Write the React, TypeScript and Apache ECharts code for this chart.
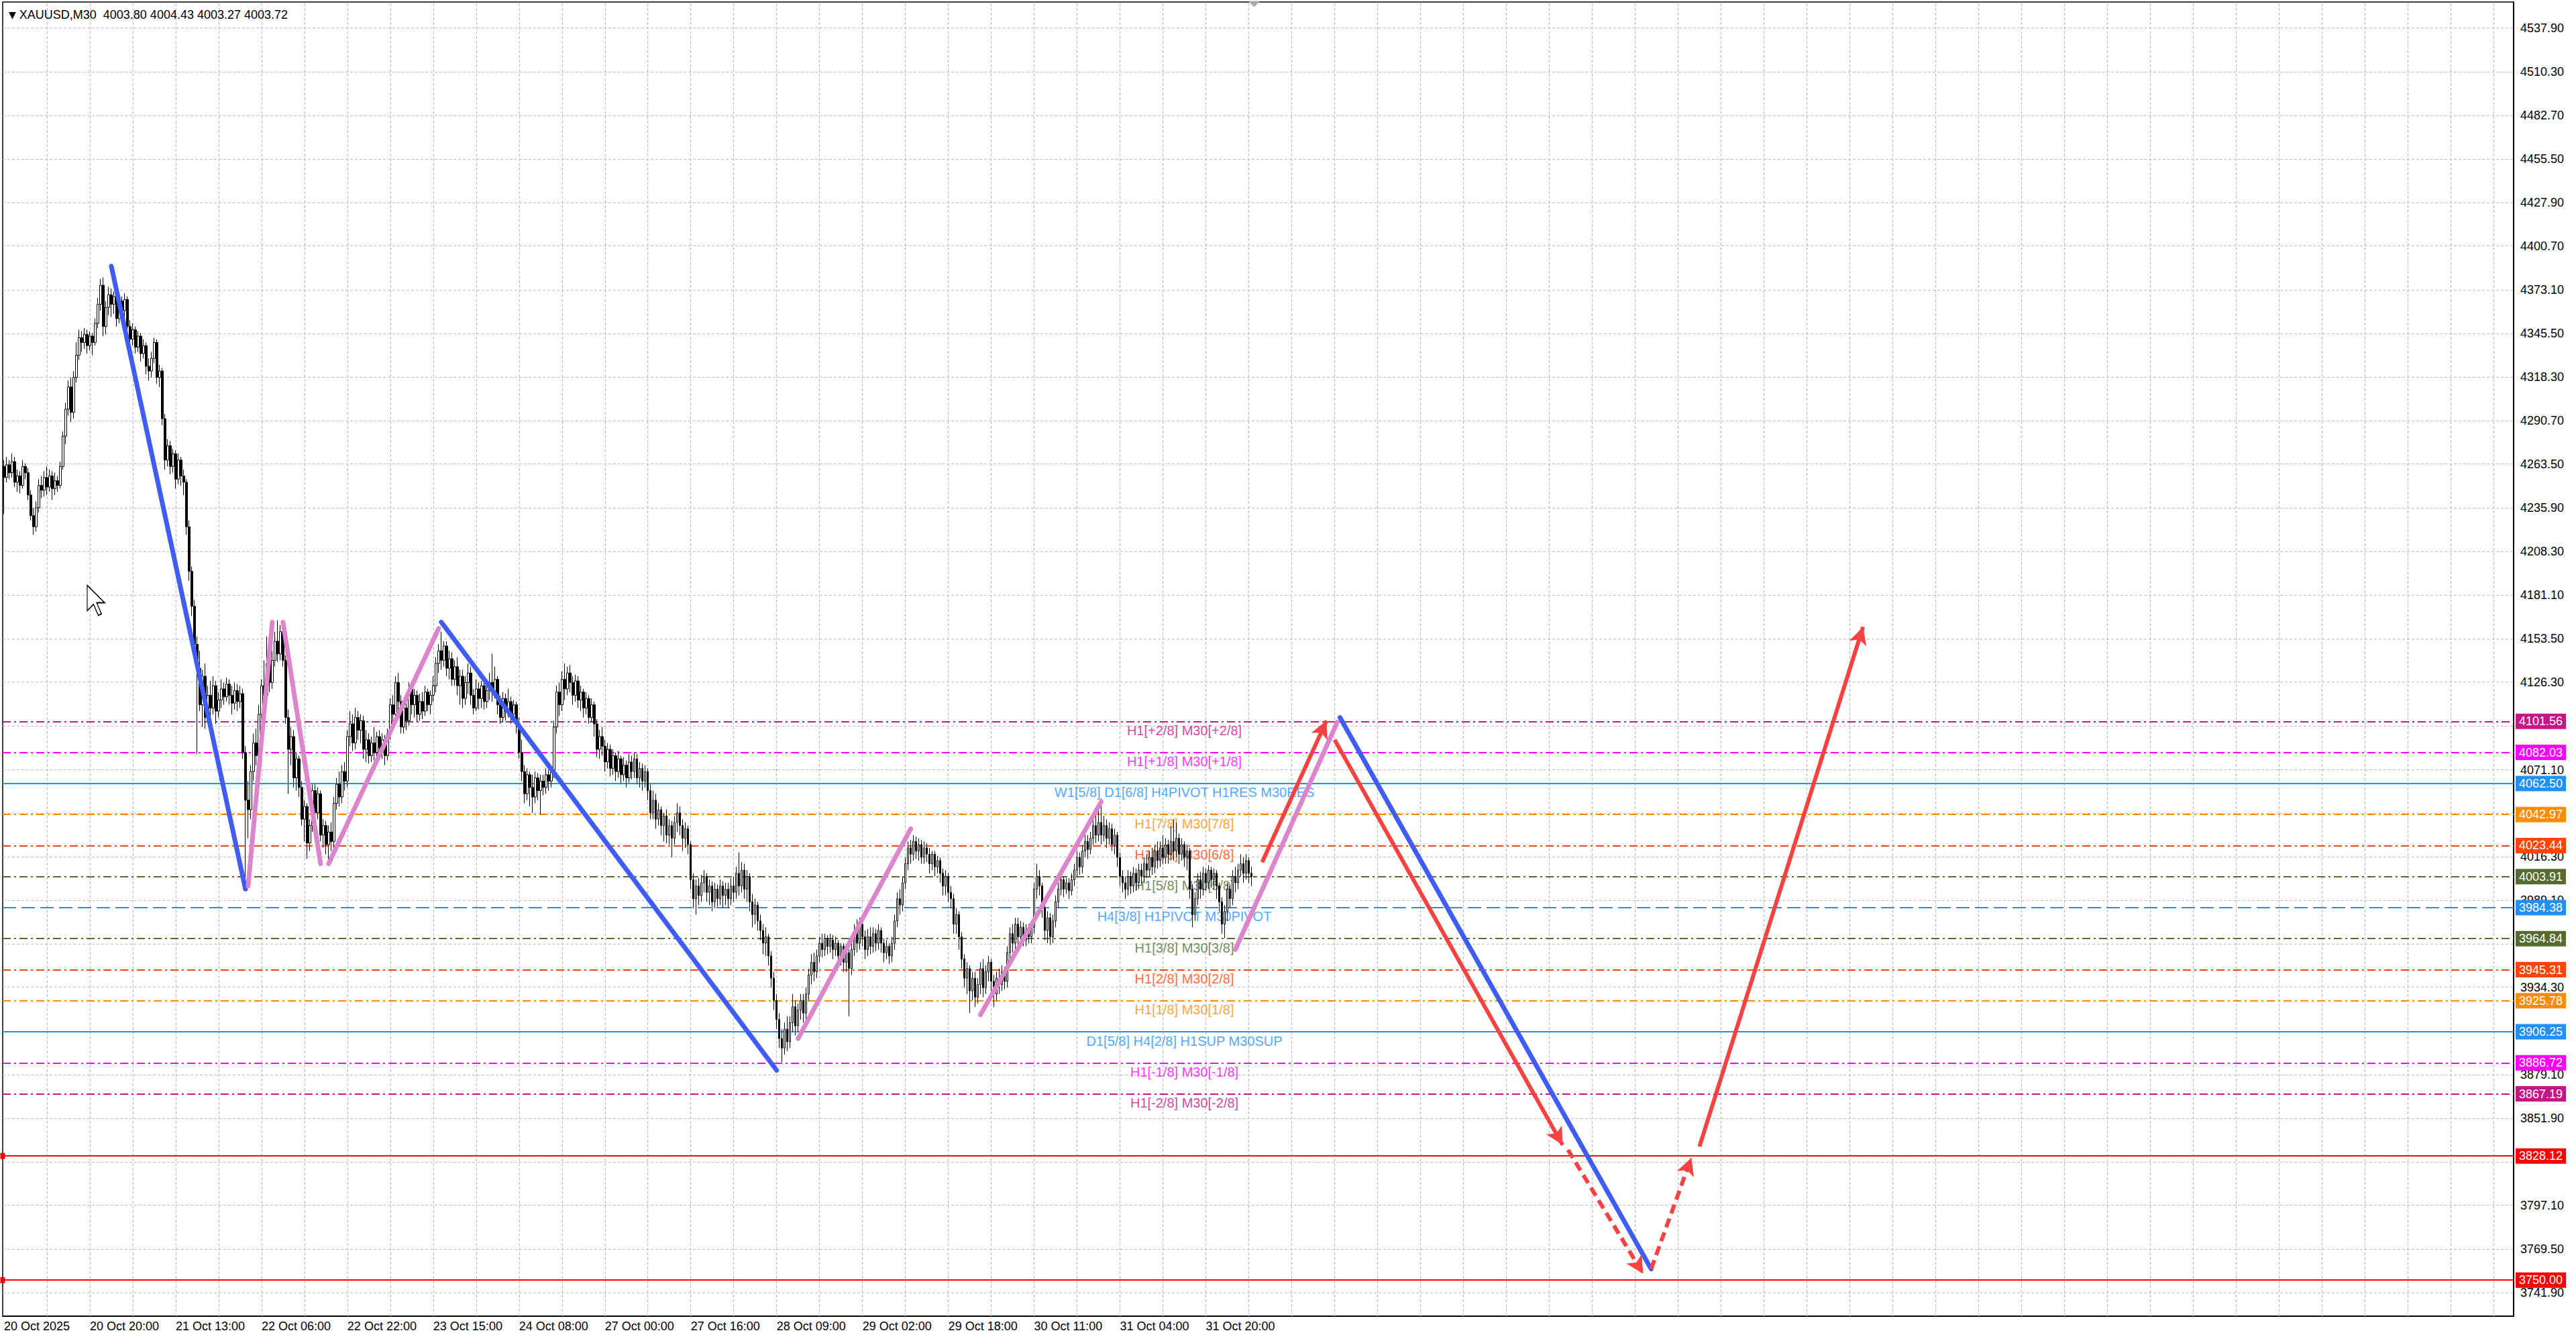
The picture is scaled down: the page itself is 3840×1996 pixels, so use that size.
import { useEffect, useRef } from 'react';
import * as echarts from 'echarts';

type Bar = [number, number, number, number]; // open, close, low, high
type Leg = [number, number, number, number]; // bar, price, bar, price

const FONT = '"Liberation Sans", Arial, sans-serif';

const symbolName = 'XAUUSD';
const timeframe = 'M30';

// 20 Oct 04:00 - 23:30
const oct20: Bar[] = [
  [4262, 4255, 4232, 4266], [4255, 4263, 4252, 4268], [4263, 4258, 4254, 4266], [4258, 4265, 4255, 4270],
  [4265, 4252, 4249, 4268], [4252, 4256, 4246, 4260], [4256, 4250, 4245, 4259], [4250, 4262, 4248, 4266],
  [4262, 4258, 4254, 4264], [4258, 4244, 4241, 4261], [4244, 4231, 4228, 4247], [4231, 4224, 4219, 4236],
  [4224, 4236, 4221, 4240], [4236, 4250, 4233, 4254], [4250, 4247, 4242, 4256], [4247, 4255, 4243, 4259],
  [4255, 4249, 4244, 4262], [4249, 4256, 4246, 4260], [4256, 4248, 4241, 4259], [4248, 4253, 4244, 4258],
  [4253, 4250, 4246, 4256], [4250, 4262, 4248, 4265], [4262, 4281, 4260, 4284], [4281, 4298, 4276, 4302],
  [4298, 4312, 4294, 4316], [4312, 4296, 4290, 4318], [4296, 4318, 4292, 4322], [4318, 4332, 4315, 4340],
  [4332, 4343, 4329, 4348], [4343, 4340, 4334, 4347], [4340, 4345, 4336, 4349], [4345, 4338, 4333, 4348],
  [4338, 4344, 4335, 4347], [4344, 4340, 4332, 4346], [4340, 4352, 4338, 4355], [4352, 4364, 4349, 4368],
  [4364, 4376, 4360, 4380], [4376, 4350, 4344, 4381], [4350, 4362, 4345, 4366], [4362, 4370, 4357, 4375],
];

const oct21: Bar[] = [
  [4370, 4364, 4356, 4374], [4364, 4369, 4358, 4372], [4369, 4355, 4350, 4372], [4355, 4366, 4352, 4370],
  [4366, 4360, 4354, 4369], [4360, 4367, 4355, 4371], [4367, 4350, 4346, 4369], [4350, 4342, 4336, 4354],
  [4342, 4348, 4338, 4352], [4348, 4337, 4333, 4350], [4337, 4344, 4334, 4347], [4344, 4333, 4328, 4346],
  [4333, 4338, 4330, 4342], [4338, 4325, 4320, 4340], [4325, 4322, 4316, 4330], [4322, 4330, 4318, 4334],
  [4330, 4340, 4327, 4343], [4340, 4318, 4314, 4342], [4318, 4322, 4312, 4326], [4322, 4292, 4288, 4324],
  [4292, 4266, 4260, 4295], [4266, 4275, 4262, 4279], [4275, 4262, 4257, 4278], [4262, 4270, 4258, 4273],
  [4270, 4254, 4248, 4272], [4254, 4266, 4251, 4270], [4266, 4256, 4250, 4268], [4256, 4252, 4244, 4260],
  [4252, 4224, 4219, 4254], [4224, 4196, 4190, 4228], [4196, 4174, 4168, 4199], [4174, 4150, 4145, 4178],
  [4150, 4135, 4081, 4155], [4135, 4112, 4108, 4146], [4112, 4130, 4098, 4134], [4130, 4104, 4097, 4138],
  [4104, 4118, 4100, 4124], [4118, 4110, 4102, 4127], [4110, 4124, 4106, 4130], [4124, 4108, 4100, 4127],
  [4108, 4115, 4104, 4120], [4115, 4122, 4110, 4128], [4122, 4117, 4112, 4126], [4117, 4125, 4114, 4129],
  [4125, 4118, 4112, 4128], [4118, 4113, 4106, 4124],
];

const oct22: Bar[] = [
  [4113, 4121, 4109, 4126], [4121, 4114, 4108, 4125], [4114, 4119, 4110, 4124], [4119, 4082, 4078, 4122],
  [4082, 4052, 4002, 4086], [4052, 4046, 4028, 4064], [4046, 4070, 4040, 4074], [4070, 4088, 4064, 4094],
  [4088, 4080, 4074, 4097], [4080, 4106, 4076, 4112], [4106, 4124, 4100, 4128], [4124, 4118, 4112, 4140],
  [4118, 4138, 4114, 4155], [4138, 4126, 4120, 4143], [4126, 4140, 4122, 4146], [4140, 4152, 4136, 4158],
  [4152, 4144, 4139, 4165], [4144, 4158, 4140, 4162], [4158, 4140, 4136, 4161], [4140, 4104, 4100, 4143],
  [4104, 4084, 4056, 4109], [4084, 4092, 4074, 4098], [4092, 4066, 4060, 4096], [4066, 4078, 4058, 4082],
  [4078, 4060, 4054, 4080], [4060, 4040, 4036, 4064], [4040, 4048, 4026, 4052], [4048, 4025, 4015, 4050],
  [4025, 4036, 4020, 4040], [4036, 4058, 4032, 4062], [4058, 4044, 4038, 4062], [4044, 4056, 4040, 4060],
  [4056, 4030, 4026, 4058], [4030, 4036, 4022, 4040], [4036, 4024, 4018, 4039], [4024, 4032, 4014, 4036],
  [4032, 4026, 4020, 4038], [4026, 4050, 4022, 4054], [4050, 4062, 4046, 4066], [4062, 4054, 4048, 4070],
  [4054, 4070, 4050, 4074], [4070, 4064, 4058, 4076], [4064, 4092, 4060, 4096], [4092, 4100, 4086, 4108],
  [4100, 4088, 4083, 4106], [4088, 4104, 4084, 4110],
];

const oct23: Bar[] = [
  [4104, 4096, 4090, 4108], [4096, 4102, 4088, 4106], [4102, 4084, 4078, 4105], [4084, 4090, 4076, 4096],
  [4090, 4080, 4075, 4094], [4080, 4088, 4076, 4092], [4088, 4082, 4077, 4098], [4082, 4092, 4078, 4095],
  [4092, 4085, 4080, 4096], [4085, 4090, 4078, 4094], [4090, 4080, 4074, 4093], [4080, 4094, 4077, 4097],
  [4094, 4112, 4090, 4116], [4112, 4106, 4100, 4118], [4106, 4126, 4102, 4130], [4126, 4114, 4108, 4132],
  [4114, 4098, 4094, 4118], [4098, 4110, 4094, 4114], [4110, 4102, 4096, 4113], [4102, 4122, 4099, 4126],
  [4122, 4112, 4106, 4127], [4112, 4118, 4104, 4122], [4118, 4106, 4101, 4121], [4106, 4114, 4102, 4119],
  [4114, 4108, 4103, 4120], [4108, 4120, 4105, 4124], [4120, 4112, 4108, 4122], [4112, 4118, 4106, 4121],
  [4118, 4124, 4114, 4130], [4124, 4138, 4120, 4142], [4138, 4146, 4132, 4150], [4146, 4140, 4134, 4158],
  [4140, 4149, 4136, 4152], [4149, 4135, 4130, 4152], [4135, 4141, 4128, 4146], [4141, 4128, 4124, 4145],
  [4128, 4136, 4124, 4140], [4136, 4124, 4118, 4142], [4124, 4130, 4112, 4134], [4130, 4116, 4110, 4134],
  [4116, 4126, 4112, 4130], [4126, 4132, 4119, 4138], [4132, 4118, 4112, 4136], [4118, 4110, 4106, 4122],
  [4110, 4122, 4108, 4128], [4122, 4116, 4109, 4126],
];

const oct24: Bar[] = [
  [4116, 4124, 4110, 4127], [4124, 4114, 4109, 4128], [4114, 4121, 4110, 4126], [4121, 4126, 4115, 4132],
  [4126, 4120, 4114, 4144], [4120, 4128, 4116, 4136], [4128, 4112, 4106, 4130], [4112, 4104, 4100, 4118],
  [4104, 4116, 4101, 4120], [4116, 4108, 4102, 4119], [4108, 4114, 4104, 4122], [4114, 4106, 4100, 4117],
  [4106, 4112, 4103, 4115], [4112, 4100, 4094, 4114], [4100, 4082, 4078, 4104], [4082, 4070, 4064, 4090],
  [4070, 4056, 4050, 4074], [4056, 4068, 4052, 4072], [4068, 4060, 4048, 4070], [4060, 4054, 4044, 4068],
  [4054, 4066, 4050, 4070], [4066, 4058, 4052, 4069], [4058, 4064, 4043, 4068], [4064, 4060, 4055, 4068],
  [4060, 4068, 4056, 4072], [4068, 4064, 4058, 4071], [4064, 4070, 4060, 4074], [4070, 4098, 4066, 4102],
  [4098, 4120, 4094, 4124], [4120, 4112, 4105, 4126], [4112, 4128, 4108, 4133], [4128, 4122, 4115, 4138],
  [4122, 4132, 4118, 4136], [4132, 4126, 4120, 4137], [4126, 4118, 4112, 4130], [4118, 4127, 4114, 4131],
  [4127, 4115, 4110, 4130], [4115, 4120, 4108, 4124], [4120, 4110, 4104, 4122], [4110, 4116, 4106, 4120],
  [4116, 4104, 4100, 4118], [4104, 4112, 4101, 4116], [4112, 4100, 4092, 4114], [4100, 4084, 4079, 4103],
  [4084, 4092, 4078, 4096], [4092, 4086, 4080, 4098],
];

const oct27: Bar[] = [
  [4086, 4076, 4070, 4090], [4076, 4084, 4072, 4088], [4084, 4072, 4067, 4087], [4072, 4080, 4068, 4084],
  [4080, 4070, 4064, 4082], [4070, 4078, 4066, 4083], [4078, 4068, 4062, 4080], [4068, 4074, 4064, 4079],
  [4074, 4066, 4060, 4077], [4066, 4076, 4063, 4081], [4076, 4070, 4065, 4080], [4070, 4078, 4066, 4082],
  [4078, 4066, 4062, 4081], [4066, 4072, 4060, 4076], [4072, 4064, 4058, 4075], [4064, 4070, 4060, 4074],
  [4070, 4058, 4052, 4072], [4058, 4044, 4040, 4062], [4044, 4052, 4040, 4058], [4052, 4040, 4034, 4056],
  [4040, 4046, 4036, 4050], [4046, 4036, 4030, 4048], [4036, 4042, 4026, 4044], [4042, 4030, 4025, 4046],
  [4030, 4036, 4024, 4040], [4036, 4028, 4016, 4039], [4028, 4038, 4024, 4042], [4038, 4044, 4032, 4050],
  [4044, 4036, 4030, 4048], [4036, 4028, 4020, 4040], [4028, 4034, 4022, 4038], [4034, 4024, 4018, 4036],
  [4024, 4002, 3996, 4026], [4002, 3990, 3984, 4006], [3990, 3998, 3980, 4002], [3998, 3992, 3986, 4003],
  [3992, 4000, 3988, 4005], [4000, 4004, 3994, 4008], [4004, 3994, 3988, 4006], [3994, 3998, 3986, 4002],
  [3998, 3988, 3982, 4001], [3988, 3996, 3984, 4000], [3996, 3990, 3985, 3999], [3990, 3998, 3986, 4002],
  [3998, 3992, 3984, 4001], [3992, 3996, 3986, 4000],
];

const oct28: Bar[] = [
  [3996, 3990, 3984, 4000], [3990, 3998, 3986, 4003], [3998, 3994, 3988, 4004], [3994, 4006, 3990, 4010],
  [4006, 3998, 3992, 4019], [3998, 4008, 3994, 4013], [4008, 3996, 3990, 4012], [3996, 4004, 3988, 4008],
  [4004, 3988, 3982, 4006], [3988, 3980, 3972, 3993], [3980, 3986, 3974, 3990], [3986, 3976, 3970, 3988],
  [3976, 3970, 3964, 3980], [3970, 3962, 3955, 3974], [3962, 3966, 3954, 3972], [3966, 3954, 3948, 3968],
  [3954, 3940, 3934, 3957], [3940, 3926, 3920, 3944], [3926, 3914, 3908, 3930], [3914, 3902, 3896, 3918],
  [3902, 3896, 3887, 3908], [3896, 3908, 3892, 3912], [3908, 3900, 3894, 3916], [3900, 3912, 3896, 3916],
  [3912, 3922, 3906, 3930], [3922, 3910, 3904, 3926], [3910, 3920, 3906, 3924], [3920, 3926, 3914, 3930],
  [3926, 3918, 3912, 3930], [3918, 3930, 3914, 3934], [3930, 3942, 3926, 3946], [3942, 3950, 3936, 3955],
  [3950, 3944, 3938, 3956], [3944, 3954, 3940, 3958], [3954, 3962, 3950, 3966], [3962, 3958, 3953, 3968],
  [3958, 3965, 3954, 3968], [3965, 3960, 3955, 3967], [3960, 3964, 3956, 3968], [3964, 3958, 3952, 3967],
  [3958, 3962, 3954, 3966], [3962, 3954, 3948, 3964], [3954, 3960, 3948, 3962], [3960, 3950, 3944, 3962],
  [3950, 3956, 3944, 3960], [3956, 3946, 3916, 3958],
];

const oct29: Bar[] = [
  [3946, 3958, 3942, 3962], [3958, 3970, 3954, 3974], [3970, 3962, 3956, 3977], [3962, 3974, 3958, 3978],
  [3974, 3966, 3960, 3977], [3966, 3958, 3952, 3970], [3958, 3966, 3954, 3971], [3966, 3960, 3955, 3972],
  [3960, 3968, 3956, 3972], [3968, 3962, 3957, 3971], [3962, 3970, 3958, 3974], [3970, 3962, 3956, 3972],
  [3962, 3956, 3950, 3965], [3956, 3960, 3952, 3964], [3960, 3954, 3949, 3962], [3954, 3962, 3950, 3966],
  [3962, 3976, 3958, 3980], [3976, 3990, 3972, 3994], [3990, 3986, 3980, 3996], [3986, 4000, 3982, 4004],
  [4000, 4012, 3996, 4016], [4012, 4022, 4008, 4026], [4022, 4018, 4012, 4027], [4018, 4026, 4014, 4030],
  [4026, 4020, 4015, 4029], [4020, 4024, 4014, 4028], [4024, 4016, 4012, 4027], [4016, 4022, 4012, 4026],
  [4022, 4018, 4013, 4025], [4018, 4012, 4006, 4022], [4012, 4018, 4008, 4020], [4018, 4010, 4004, 4020],
  [4010, 4014, 4006, 4017], [4014, 4006, 4000, 4016], [4006, 3998, 3992, 4009], [3998, 4004, 3992, 4008],
  [4004, 3994, 3988, 4006], [3994, 3990, 3984, 3998], [3990, 3974, 3968, 3993], [3974, 3980, 3968, 3984],
  [3980, 3966, 3958, 3982], [3966, 3952, 3946, 3969], [3952, 3940, 3934, 3955], [3940, 3946, 3930, 3950],
  [3946, 3932, 3918, 3948], [3932, 3940, 3926, 3944],
];

const oct30: Bar[] = [
  [3940, 3928, 3922, 3944], [3928, 3936, 3924, 3940], [3936, 3946, 3930, 3950], [3946, 3934, 3928, 3952],
  [3934, 3944, 3930, 3948], [3944, 3950, 3938, 3954], [3950, 3938, 3932, 3952], [3938, 3930, 3922, 3942],
  [3930, 3940, 3926, 3944], [3940, 3936, 3930, 3946], [3936, 3944, 3932, 3948], [3944, 3938, 3933, 3947],
  [3938, 3956, 3934, 3960], [3956, 3968, 3952, 3972], [3968, 3962, 3956, 3974], [3962, 3974, 3958, 3978],
  [3974, 3966, 3960, 3978], [3966, 3972, 3962, 3976], [3972, 3964, 3960, 3975], [3964, 3970, 3960, 3974],
  [3970, 3966, 3962, 3974], [3966, 3972, 3962, 3975], [3972, 3996, 3968, 4000], [3996, 4004, 3990, 4012],
  [4004, 3998, 3992, 4008], [3998, 3984, 3978, 4000], [3984, 3970, 3964, 3988], [3970, 3978, 3962, 3982],
  [3978, 3966, 3961, 3981], [3966, 3976, 3962, 3980], [3976, 3988, 3972, 3992], [3988, 3996, 3984, 4000],
  [3996, 4002, 3992, 4005], [4002, 3996, 3991, 4004], [3996, 4000, 3993, 4003], [4000, 3995, 3990, 4003],
  [3995, 4002, 3992, 4006], [4002, 4008, 3998, 4012], [4008, 4016, 4004, 4020], [4016, 4010, 4005, 4019],
  [4010, 4020, 4006, 4024], [4020, 4026, 4016, 4030], [4026, 4021, 4015, 4030], [4021, 4028, 4018, 4032],
  [4028, 4036, 4024, 4040], [4036, 4030, 4025, 4044],
];

const oct31: Bar[] = [
  [4030, 4038, 4026, 4046], [4038, 4030, 4024, 4053], [4030, 4036, 4026, 4042], [4036, 4028, 4022, 4040],
  [4028, 4034, 4024, 4038], [4034, 4024, 4020, 4037], [4024, 4030, 4018, 4034], [4030, 4016, 4010, 4032],
  [4016, 4004, 3998, 4019], [4004, 4000, 3994, 4008], [4000, 3996, 3990, 4004], [3996, 4004, 3992, 4008],
  [4004, 3998, 3993, 4007], [3998, 4006, 3994, 4010], [4006, 4000, 3995, 4009], [4000, 4008, 3996, 4012],
  [4008, 4004, 3999, 4012], [4004, 4012, 4000, 4016], [4012, 4008, 4003, 4018], [4008, 4016, 4004, 4020],
  [4016, 4010, 4005, 4022], [4010, 4020, 4006, 4024], [4020, 4014, 4009, 4026], [4014, 4022, 4010, 4026],
  [4022, 4016, 4012, 4030], [4016, 4024, 4012, 4028], [4024, 4018, 4012, 4027], [4018, 4026, 4014, 4036],
  [4026, 4020, 4014, 4040], [4020, 4028, 4016, 4038], [4028, 4018, 4012, 4031], [4018, 4024, 4014, 4028],
  [4024, 4016, 4010, 4026], [4016, 4020, 4008, 4024], [4020, 3996, 3990, 4022], [3996, 3980, 3972, 3999],
  [3980, 3990, 3976, 3994], [3990, 4002, 3986, 4006], [4002, 3996, 3990, 4007], [3996, 4006, 3992, 4010],
  [4006, 4000, 3995, 4009], [4000, 4008, 3996, 4011], [4008, 4002, 3997, 4010], [4002, 4006, 3996, 4009],
  [4006, 3998, 3990, 4008], [3998, 3988, 3982, 4000], [3988, 3974, 3968, 3991], [3974, 3982, 3965, 3986],
];

const nov03: Bar[] = [
  [3982, 3996, 3976, 4000], [3996, 3990, 3984, 3999], [3990, 4004, 3986, 4008], [4004, 4000, 3994, 4010],
  [4000, 4008, 3996, 4012], [4008, 4012, 4004, 4018], [4012, 4006, 4000, 4016], [4006, 4014, 4002, 4018],
  [4014, 4006, 4000, 4016], [4006, 4004, 3998, 4010], [4003.8, 4003.72, 4003.27, 4004.43],
];

const candles: Bar[] = [...oct20, ...oct21, ...oct22, ...oct23, ...oct24, ...oct27, ...oct28, ...oct29, ...oct30, ...oct31, ...nov03];

const slotCount = 936;
const barsPerLabel = 32;
const barsPerGrid = 16;
const timeLabels = [
  '20 Oct 2025', '20 Oct 20:00', '21 Oct 13:00', '22 Oct 06:00', '22 Oct 22:00', '23 Oct 15:00', '24 Oct 08:00',
  '27 Oct 00:00', '27 Oct 16:00', '28 Oct 09:00', '29 Oct 02:00', '29 Oct 18:00', '30 Oct 11:00', '31 Oct 04:00',
  '31 Oct 20:00',
];

const priceRange = [3727.3, 4554.2];
const priceTicks = [
  4537.9, 4510.3, 4482.7, 4455.5, 4427.9, 4400.7, 4373.1, 4345.5, 4318.3, 4290.7, 4263.5, 4235.9, 4208.3,
  4181.1, 4153.5, 4126.3, 4098.7, 4071.1, 4043.9, 4016.3, 3989.1, 3961.5, 3934.3, 3906.7, 3879.1, 3851.9,
  3824.3, 3797.1, 3769.5, 3741.9,
];
// tick labels the terminal hides behind the price boxes
const hiddenTickLabels = [4098.7, 3961.5, 3824.3];

const levelValues = [4101.56, 4082.03, 4062.5, 4042.97, 4023.44, 4003.91, 3984.38, 3964.84, 3945.31, 3925.78, 3906.25, 3886.72, 3867.19];
const levelNames = [
  'H1[+2/8] M30[+2/8]', 'H1[+1/8] M30[+1/8]', 'W1[5/8] D1[6/8] H4PIVOT H1RES M30RES', 'H1[7/8] M30[7/8]',
  'H1[6/8] M30[6/8]', 'H1[5/8] M30[5/8]', 'H4[3/8] H1PIVOT M30PIVOT', 'H1[3/8] M30[3/8]', 'H1[2/8] M30[2/8]',
  'H1[1/8] M30[1/8]', 'D1[5/8] H4[2/8] H1SUP M30SUP', 'H1[-1/8] M30[-1/8]', 'H1[-2/8] M30[-2/8]',
];
const levelColors = ['#C71585', '#FF00FF', '#1E90FF', '#FF8C00', '#FF4500', '#556B2F', '#1E90FF', '#556B2F', '#FF4500', '#FF8C00', '#1E90FF', '#FF00FF', '#C71585'];
const levelStyles = ['dashdot', 'dashdot', 'solid', 'dashdot', 'dashdot', 'dashdot', 'dashed', 'dashdot', 'dashdot', 'dashdot', 'solid', 'dashdot', 'dashdot'];
const levelLabelBar = 440;

const targetValues = [3828.12, 3750.0];
const currentPrice = 4003.72;

const blueLegs: Leg[] = [[40, 4388, 90, 3996], [163, 4164, 288, 3882], [498, 4104, 614, 3757]];
const pinkLegs: Leg[] = [
  [91, 3998, 100, 4164], [104, 4164, 118, 4012], [121, 4012, 162, 4160],
  [296, 3902, 338, 4034], [364, 3917, 409, 4051], [459, 3958, 497, 4101],
];
const redArrows: Leg[] = [[469, 4013, 493, 4102], [496, 4090, 581, 3835], [632, 3834, 693, 4161]];
const redDashedArrows: Leg[] = [[583, 3832, 611, 3754], [614, 3757, 629, 3827]];

// mouse pointer left on the chart (bar, price of its tip)
const cursorAt = [31, 4187];

const BLUE = '#3F5CF4';
const PINK = '#DD85CC';
const RED = '#F74242';
const GRID = '#BDBDBD';

const dashOf = (s: string): any => (s === 'solid' ? 'solid' : s === 'dashed' ? [20, 8] : [12, 5, 3, 5]);
const showTime = (i: number) => i % barsPerLabel === 0 && i / barsPerLabel < timeLabels.length;

export default function App() {
  const chartRef = useRef<HTMLDivElement>(null);

  useEffect(() => {
    if (!chartRef.current) return;
    const chart = echarts.init(chartRef.current, undefined, { renderer: 'svg' });

    const categories = Array.from({ length: slotCount }, (_, i) =>
      showTime(i) ? timeLabels[i / barsPerLabel] : ''
    );
    const gridBars: number[] = [];
    for (let i = barsPerGrid; i < slotCount; i += barsPerGrid) gridBars.push(i);

    const last = candles[candles.length - 1];
    const header = `${symbolName},${timeframe}  ${last[0].toFixed(2)} ${last[3].toFixed(2)} ${last[2].toFixed(2)} ${last[1].toFixed(2)}`;

    const legSeries = (legs: Leg[], color: string, name: string) =>
      legs.map((l, k) => ({
        type: 'line' as const,
        name: `${name}${k}`,
        data: [[l[0], l[1]], [l[2], l[3]]],
        symbol: 'none',
        silent: true,
        z: 6,
        lineStyle: { color, width: 7, cap: 'round' as const },
      }));

    const boxLabel = (bg: string) => ({
      show: true,
      position: 'end' as const,
      distance: 3,
      formatter: (p: any) => Number(p.value).toFixed(2),
      color: '#fff',
      backgroundColor: bg,
      padding: [3, 5, 2, 5],
      fontSize: 18,
      fontFamily: FONT,
    });

    const option: echarts.EChartsOption = {
      animation: false,
      backgroundColor: '#fff',
      textStyle: { fontFamily: FONT },
      title: {
        text: `{t|▼} ${header}`,
        left: 8,
        top: 8,
        textStyle: {
          fontSize: 18,
          fontWeight: 'normal',
          color: '#000',
          fontFamily: FONT,
          rich: { t: { fontSize: 14, color: '#000', fontFamily: '"DejaVu Sans", sans-serif' } },
        },
      },
      grid: {
        left: 4,
        right: 93,
        top: 3,
        bottom: 34,
        show: true,
        borderColor: '#000',
        borderWidth: 1.5,
        backgroundColor: '#fff',
      },
      xAxis: {
        type: 'category',
        data: categories,
        boundaryGap: true,
        axisLine: { lineStyle: { color: '#000', width: 2 } },
        axisTick: {
          interval: (i: number) => showTime(i),
          alignWithLabel: true,
          length: 8,
          lineStyle: { color: '#000', width: 1.5 },
        },
        axisLabel: {
          interval: (i: number) => showTime(i),
          align: 'left',
          margin: 6,
          color: '#000',
          fontSize: 18,
          fontFamily: FONT,
        },
        splitLine: { show: false },
      },
      yAxis: {
        type: 'value',
        position: 'right',
        min: priceRange[0],
        max: priceRange[1],
        axisLine: { show: true, lineStyle: { color: '#000', width: 2 } },
        axisLabel: { show: false },
        axisTick: { show: false },
        splitLine: { show: false },
      },
      series: [
        {
          type: 'line',
          name: 'grid',
          data: [],
          silent: true,
          markLine: {
            silent: true,
            symbol: 'none',
            animation: false,
            z: 1,
            lineStyle: { color: GRID, type: [4, 3], width: 1.2 },
            label: {
              show: true,
              position: 'end',
              distance: 10,
              formatter: (p: any) => Number(p.value).toFixed(2),
              color: '#000',
              fontSize: 18,
              fontFamily: FONT,
            },
            data: [
              ...priceTicks.map((v) => ({
                yAxis: v,
                label: { show: !hiddenTickLabels.includes(v) },
              })),
              ...gridBars.map((i) => ({ xAxis: i, label: { show: false } })),
            ] as any,
          },
        },
        {
          type: 'line',
          name: 'levels',
          data: [],
          silent: true,
          markLine: {
            silent: true,
            symbol: 'none',
            animation: false,
            z: 3,
            data: [
              {
                yAxis: currentPrice,
                lineStyle: { opacity: 0 },
                label: { ...boxLabel('#000'), padding: [8, 5, 2, 5] },
              },
              ...levelValues.map((v, k) => ({
                yAxis: v,
                lineStyle: { color: levelColors[k], type: dashOf(levelStyles[k]), width: 1.8 },
                label: boxLabel(levelColors[k]),
              })),
              ...targetValues.map((v) => ({
                yAxis: v,
                symbol: ['none', 'emptyRect'],
                symbolSize: [9, 7],
                lineStyle: { color: '#FF0000', type: 'solid' as const, width: 1.8 },
                label: boxLabel('#FF0000'),
              })),
            ] as any,
          },
        },
        {
          type: 'scatter',
          name: 'levelNames',
          silent: true,
          z: 3,
          symbolSize: 1,
          itemStyle: { color: 'rgba(0,0,0,0)' },
          data: levelValues.map((v, k) => ({
            value: [levelLabelBar, v],
            name: levelNames[k],
            label: {
              show: true,
              position: 'bottom',
              distance: 3,
              formatter: '{b}',
              color: levelColors[k],
              fontSize: 20,
              fontFamily: FONT,
            },
          })),
        },
        {
          type: 'candlestick',
          name: symbolName,
          data: candles,
          barWidth: 3,
          z: 4,
          silent: true,
          itemStyle: {
            color: '#fff',
            color0: '#000',
            borderColor: '#000',
            borderColor0: '#000',
            borderWidth: 1,
          },
          markPoint: {
            silent: true,
            animation: false,
            label: { show: false },
            data: [
              {
                coord: [candles.length - 1, priceRange[1]],
                symbol: 'triangle',
                symbolRotate: 180,
                symbolSize: [18, 9],
                symbolOffset: [0, 3],
                itemStyle: { color: '#A8A8A8' },
              },
              {
                coord: cursorAt,
                symbol: 'path://M0,0 L0,16 L4,12 L7,19 L9,18 L6,11 L11,11 Z',
                symbolSize: [26, 45],
                symbolOffset: [13, 22],
                itemStyle: { color: '#fff', borderColor: '#000', borderWidth: 1.5 },
              },
            ] as any,
          },
        },
        ...legSeries(blueLegs, BLUE, 'blue'),
        ...legSeries(pinkLegs, PINK, 'pink'),
        {
          type: 'line',
          name: 'forecast',
          data: [],
          silent: true,
          markLine: {
            silent: true,
            animation: false,
            z: 7,
            symbol: ['none', 'arrow'],
            symbolSize: [20, 26],
            label: { show: false },
            lineStyle: { color: RED, width: 6, type: 'solid' },
            data: [
              ...redArrows.map((l) => [{ coord: [l[0], l[1]] }, { coord: [l[2], l[3]] }]),
              ...redDashedArrows.map((l) => [
                { coord: [l[0], l[1]], lineStyle: { color: RED, width: 6, type: [14, 8] } },
                { coord: [l[2], l[3]] },
              ]),
            ] as any,
          },
        },
      ] as any,
    };

    chart.setOption(option);

    return () => {
      chart.dispose();
    };
  }, []);

  return (
    <div
      ref={chartRef}
      style={{ position: 'absolute', left: 0, top: 0, width: '3840px', height: '1996px' }}
    />
  );
}
